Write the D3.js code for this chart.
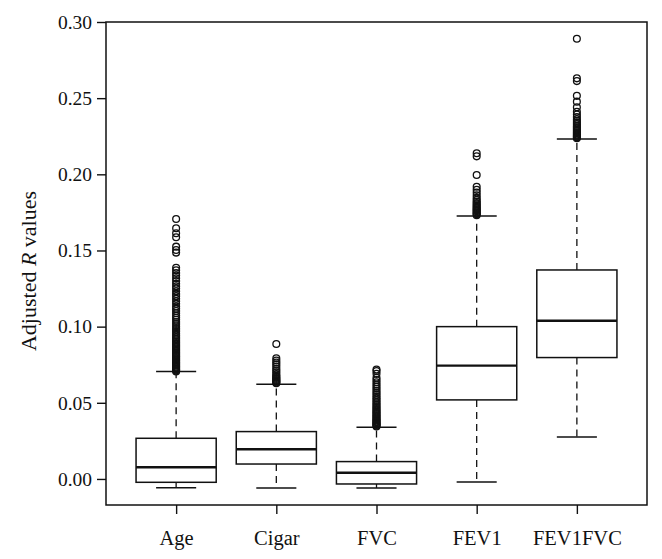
<!DOCTYPE html>
<html>
<head>
<meta charset="utf-8">
<script src="https://cdn.jsdelivr.net/npm/d3@7"></script>
<style>
  html, body { margin: 0; padding: 0; background: #fff; }
  svg { display: block; }
  text { font-family: "Liberation Serif", "DejaVu Serif", serif; fill: #111; }
</style>
</head>
<body>
<svg id="chart" width="662" height="559"></svg>
<script>
// ---- data ----
const categories = ["Age", "Cigar", "FVC", "FEV1", "FEV1FVC"];
const lowWhisker  = [-0.0057, -0.0059, -0.0059, -0.0020, 0.0276];
const q1          = [-0.0022,  0.0098, -0.0033,  0.0519, 0.0797];
const medians     = [ 0.0077,  0.0195,  0.0041,  0.0744, 0.1039];
const q3          = [ 0.0267,  0.0311,  0.0114,  0.1000, 0.1372];
const highWhisker = [ 0.0705,  0.0622,  0.0339,  0.1727, 0.2232];

const outAge = [0.0706,0.0712,0.0718,0.0724,0.0731,0.0737,0.0743,0.0750,0.0757,0.0763,0.0770,0.0778,0.0785,0.0792,0.0800,0.0808,0.0815,0.0823,0.0831,0.0840,0.0848,0.0857,0.0866,0.0874,0.0883,0.0892,0.0901,0.0911,0.0920,0.0931,0.0942,0.0953,0.0966,0.0978,0.0990,0.1003,0.1017,0.1030,0.1045,0.1058,0.1072,0.1088,0.1102,0.1118,0.1133,0.1150,0.1166,0.1183,0.1200,0.1215,0.1232,0.1250,0.1265,0.1282,0.1300,0.1318,0.1335,0.1352,0.1370,0.1387,0.1486,0.1503,0.1525,0.1587,0.1613,0.1646,0.1707];
const outCigar = [0.0628,0.0633,0.0638,0.0644,0.0650,0.0656,0.0663,0.0670,0.0678,0.0688,0.0700,0.0712,0.0724,0.0738,0.0752,0.0765,0.0778,0.0792,0.0886];
const outFVC = [0.0345,0.0350,0.0355,0.0360,0.0366,0.0372,0.0378,0.0384,0.0390,0.0397,0.0404,0.0411,0.0418,0.0426,0.0434,0.0442,0.0450,0.0459,0.0468,0.0477,0.0487,0.0497,0.0507,0.0518,0.0529,0.0540,0.0552,0.0565,0.0578,0.0592,0.0606,0.0620,0.0635,0.0650,0.0664,0.0690,0.0708,0.0718];
const outFEV1 = [0.1732,0.1738,0.1744,0.1750,0.1757,0.1764,0.1771,0.1778,0.1786,0.1794,0.1803,0.1812,0.1822,0.1833,0.1846,0.1862,0.1880,0.1898,0.1918,0.1996,0.2118,0.2138];
const outFEV1FVC = [0.2237,0.2243,0.2249,0.2255,0.2262,0.2269,0.2276,0.2284,0.2292,0.2300,0.2309,0.2318,0.2328,0.2338,0.2350,0.2362,0.2376,0.2392,0.2410,0.2440,0.2477,0.2515,0.2612,0.2630,0.2890];
const outliers = [outAge, outCigar, outFVC, outFEV1, outFEV1FVC];

const yTicks = [0.00, 0.05, 0.10, 0.15, 0.20, 0.25, 0.30];
const yDomain = [-0.0171, 0.30];
const xDomain = [0.3, 5.7];

// ---- layout ----
const frame = { left: 106, right: 647, top: 22, bottom: 505 };
const svg = d3.select("#chart");

const x = d3.scaleLinear().domain(xDomain).range([frame.left, frame.right]);
const y = d3.scaleLinear().domain(yDomain).range([frame.bottom, frame.top]);
const boxHalf = 0.4, capHalf = 0.2;

// axes
const yAxis = d3.axisLeft(y).tickValues(yTicks).tickFormat(d3.format(".2f")).tickSize(9).tickPadding(5);
const gy = svg.append("g").attr("transform", `translate(${frame.left},0)`).call(yAxis);
gy.select(".domain").remove();
gy.selectAll(".tick line").attr("stroke", "#111").attr("stroke-width", 1.4);
gy.selectAll(".tick text").attr("font-size", 19.5).attr("fill", "#111")
  .attr("font-family", "Liberation Serif, DejaVu Serif, serif");

const xAxis = d3.axisBottom(x).tickValues(categories.map((c, i) => i + 1))
  .tickFormat((d) => categories[d - 1]).tickSize(9).tickPadding(16);
const gx = svg.append("g").attr("transform", `translate(0,${frame.bottom})`).call(xAxis);
gx.select(".domain").remove();
gx.selectAll(".tick line").attr("stroke", "#111").attr("stroke-width", 1.4);
gx.selectAll(".tick text").attr("font-size", 20.5).attr("fill", "#111")
  .attr("font-family", "Liberation Serif, DejaVu Serif, serif");

// y title
const title = svg.append("text")
  .attr("transform", `translate(36,271) rotate(-90)`)
  .attr("text-anchor", "middle")
  .attr("font-size", 22);
title.append("tspan").text("Adjusted ");
title.append("tspan").attr("font-style", "italic").text("R");
title.append("tspan").text(" values");

// boxes
const g = svg.append("g");
categories.forEach((c, i) => {
  const cx = i + 1;
  const stroke = "#111";
  // whiskers (dashed)
  g.append("line").attr("x1", x(cx)).attr("x2", x(cx))
    .attr("y1", y(q3[i])).attr("y2", y(highWhisker[i]))
    .attr("stroke", stroke).attr("stroke-width", 1.3).attr("stroke-dasharray", "7,5");
  g.append("line").attr("x1", x(cx)).attr("x2", x(cx))
    .attr("y1", y(q1[i])).attr("y2", y(lowWhisker[i]))
    .attr("stroke", stroke).attr("stroke-width", 1.3).attr("stroke-dasharray", "7,5");
  // caps
  [highWhisker[i], lowWhisker[i]].forEach((v) => {
    g.append("line").attr("x1", x(cx - capHalf)).attr("x2", x(cx + capHalf))
      .attr("y1", y(v)).attr("y2", y(v))
      .attr("stroke", stroke).attr("stroke-width", 1.5);
  });
  // box
  g.append("rect").attr("x", x(cx - boxHalf)).attr("y", y(q3[i]))
    .attr("width", x(cx + boxHalf) - x(cx - boxHalf))
    .attr("height", y(q1[i]) - y(q3[i]))
    .attr("fill", "white").attr("stroke", stroke).attr("stroke-width", 1.5);
  // median
  g.append("line").attr("x1", x(cx - boxHalf)).attr("x2", x(cx + boxHalf))
    .attr("y1", y(medians[i])).attr("y2", y(medians[i]))
    .attr("stroke", stroke).attr("stroke-width", 2.4);
  // outliers
  g.selectAll(null).data(outliers[i]).enter().append("circle")
    .attr("cx", x(cx)).attr("cy", (d) => y(d)).attr("r", 3.4)
    .attr("fill", "none").attr("stroke", stroke).attr("stroke-width", 1.3);
});

// frame
svg.append("rect").attr("x", frame.left).attr("y", frame.top)
  .attr("width", frame.right - frame.left).attr("height", frame.bottom - frame.top)
  .attr("fill", "none").attr("stroke", "#111").attr("stroke-width", 1.5);
</script>
</body>
</html>
